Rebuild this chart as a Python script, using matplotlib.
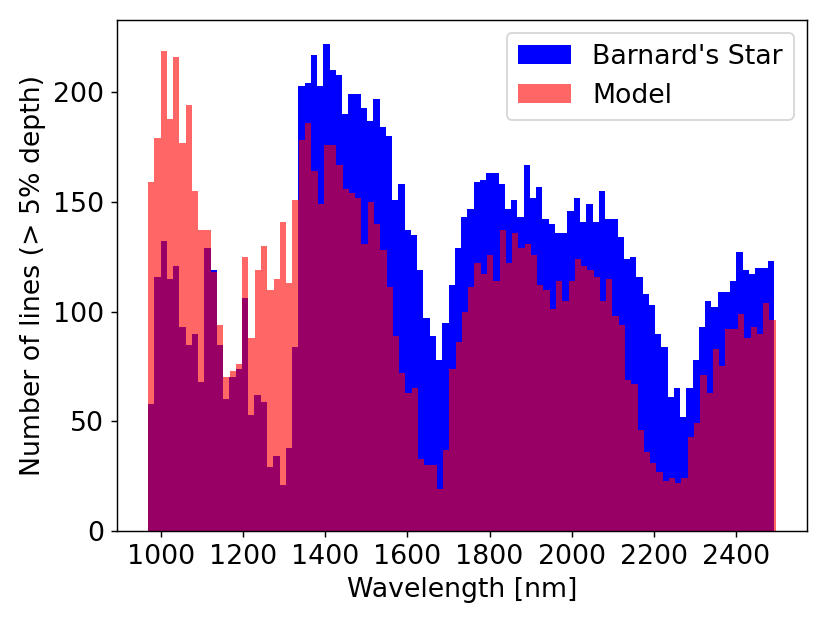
import numpy as np
import matplotlib
matplotlib.use('Agg')
import matplotlib.pyplot as plt
from matplotlib.ticker import MultipleLocator

# line counts per wavelength bin (100 bins each)
star_counts = [58, 116, 132, 115, 121, 93, 85, 90, 68, 129,
               119, 85, 60, 70, 74, 106, 53, 62, 59, 29,
               34, 21, 38, 84, 203, 204, 217, 203, 222, 210,
               208, 190, 199, 199, 193, 187, 197, 184, 180, 151,
               158, 137, 135, 119, 97, 89, 78, 95, 112, 129,
               143, 147, 159, 160, 163, 163, 158, 147, 151, 143,
               167, 152, 157, 142, 140, 136, 136, 146, 152, 141,
               149, 141, 155, 142, 142, 134, 124, 125, 116, 108,
               103, 90, 84, 61, 65, 52, 65, 78, 93, 105,
               102, 109, 109, 114, 127, 119, 117, 120, 120, 123]

model_counts = [159, 179, 219, 188, 216, 177, 194, 155, 137, 137,
                118, 94, 70, 73, 76, 125, 88, 119, 130, 110,
                115, 141, 113, 151, 178, 186, 164, 149, 176, 176,
                167, 156, 154, 152, 131, 150, 140, 128, 111, 89,
                72, 63, 65, 33, 30, 30, 19, 37, 74, 86,
                100, 111, 122, 117, 126, 114, 137, 122, 136, 129,
                131, 126, 112, 110, 101, 114, 105, 114, 124, 121,
                119, 116, 105, 115, 98, 94, 69, 67, 46, 36,
                31, 27, 23, 24, 22, 24, 43, 49, 71, 63,
                83, 75, 92, 92, 99, 88, 93, 90, 104, 96]

# wavelength span [nm] covered by each histogram
star_range = (968.4, 2492.8)
model_range = (968.4, 2496.7)

plt.rcParams['font.size'] = 14.8

star_edges = np.linspace(star_range[0], star_range[1], len(star_counts) + 1)
model_edges = np.linspace(model_range[0], model_range[1], len(model_counts) + 1)

fig = plt.figure(figsize=(830 / 130, 623 / 130), dpi=130)
ax = fig.add_subplot(111)
ax.hist(star_edges[:-1], bins=star_edges, weights=star_counts,
        color='blue', label="Barnard's Star")
ax.hist(model_edges[:-1], bins=model_edges, weights=model_counts,
        color='red', alpha=0.6, label='Model')
ax.xaxis.set_major_locator(MultipleLocator(200))
ax.set_xlabel('Wavelength [nm]')
ax.set_ylabel('Number of lines (> 5% depth)')
ax.legend(loc='upper right')

fig.subplots_adjust(left=0.1406, right=0.9723, bottom=0.1477, top=0.9685)
fig.savefig('out.png', dpi=130)
